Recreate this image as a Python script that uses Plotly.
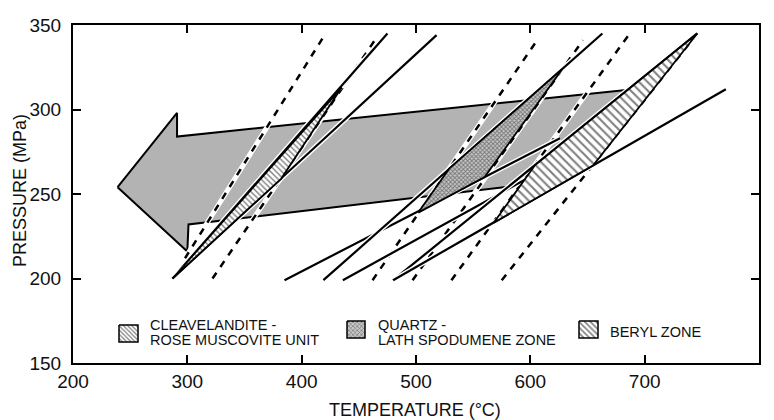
import plotly.graph_objects as go

# ---------------- data (temperature °C, pressure MPa) ----------------
x_ticks = [200, 300, 400, 500, 600, 700, 800]
y_ticks = [150, 200, 250, 300, 350]

# solid isochores: [T_start, T_end], [P_start, P_end]
solid_T = [[287, 475], [287, 518], [385, 626], [419, 663], [436, 661], [480, 746], [480, 771]]
solid_P = [[200, 345], [200, 344], [199, 283], [199, 345], [199, 283], [199, 345], [199, 312]]

# dashed isochores
dash_T = [[298, 420], [322, 466], [462, 606], [497, 646], [531, 687], [575, 746]]
dash_P = [[212, 344], [200, 343], [199, 341], [199, 341], [199, 345], [199, 345]]

# P-T path arrow outline
arrow_T = [239, 291, 291, 705, 626, 301, 300, 239]
arrow_P = [254, 298, 284, 313, 258, 232, 216, 254]

# zones
cleav_T = [287, 382, 435, 287]
cleav_P = [200, 259, 313, 200]
quartz_T = [502, 560, 628, 529, 502]
quartz_P = [239, 260, 324, 265, 239]
beryl_T = [568, 655, 746, 604, 568]
beryl_P = [233, 267, 345, 267, 233]

legend_names = ["CLEAVELANDITE -", "ROSE MUSCOVITE UNIT", "QUARTZ -", "LATH SPODUMENE ZONE", "BERYL ZONE"]

# ---------------- figure ----------------
OFF = 8                       # page body margin of the html page
W, H = 774 - OFF, 420 - OFF
PX0, PX1, PY0, PY1 = 73, 759, 25, 363   # plot frame in window pixels
L, R, T, B = PX0 - OFF, W - (PX1 - OFF), PY0 - OFF, H - (PY1 - OFF)
XR = [200, 800]
YR = [150, 350]

def px2T(px):
    return XR[0] + (px - PX0) * (XR[1] - XR[0]) / (PX1 - PX0)

def py2P(py):
    return YR[1] - (py - PY0) * (YR[1] - YR[0]) / (PY1 - PY0)

fig = go.Figure()

# arrow
fig.add_trace(go.Scatter(x=arrow_T, y=arrow_P, mode="lines", fill="toself",
                         fillcolor="#b3b3b3", line=dict(color="black", width=2),
                         hoverinfo="skip", showlegend=False))

# lines with white halo
for xs, ys in zip(dash_T, dash_P):
    fig.add_trace(go.Scatter(x=xs, y=ys, mode="lines", line=dict(color="white", width=5),
                             hoverinfo="skip", showlegend=False))
    fig.add_trace(go.Scatter(x=xs, y=ys, mode="lines", line=dict(color="black", width=2.5, dash="7px,7px"),
                             hoverinfo="skip", showlegend=False))
for xs, ys in zip(solid_T, solid_P):
    fig.add_trace(go.Scatter(x=xs, y=ys, mode="lines", line=dict(color="white", width=5),
                             hoverinfo="skip", showlegend=False))
    fig.add_trace(go.Scatter(x=xs, y=ys, mode="lines", line=dict(color="black", width=2.2),
                             hoverinfo="skip", showlegend=False))

# zones
fig.add_trace(go.Scatter(x=cleav_T, y=cleav_P, mode="lines", fill="toself",
                         fillpattern=dict(shape="\\", size=4, solidity=0.35, fgcolor="black", bgcolor="white"),
                         line=dict(color="black", width=1.8), hoverinfo="skip", showlegend=False))
fig.add_trace(go.Scatter(x=quartz_T, y=quartz_P, mode="lines", fill="toself",
                         fillpattern=dict(shape="x", size=3, solidity=0.5, fgcolor="#202020", bgcolor="#c8c8c8"),
                         line=dict(color="black", width=1.8), hoverinfo="skip", showlegend=False))
fig.add_trace(go.Scatter(x=beryl_T, y=beryl_P, mode="lines", fill="toself",
                         fillpattern=dict(shape="\\", size=6, solidity=0.35, fgcolor="black", bgcolor="white"),
                         line=dict(color="black", width=1.8), hoverinfo="skip", showlegend=False))

# legend (drawn inside plot)
icons = [(119, 138, 325, 342, "\\", 3, "white", "black"),
         (347, 365, 321, 338, "x", 3, "#c8c8c8", "#202020"),
         (579, 598, 321, 338, "\\", 4, "white", "black")]
for x0, x1, y0, y1, shp, sz, bg, fg in icons:
    fig.add_trace(go.Scatter(x=[px2T(x0), px2T(x1), px2T(x1), px2T(x0), px2T(x0)],
                             y=[py2P(y0), py2P(y0), py2P(y1), py2P(y1), py2P(y0)],
                             mode="lines", fill="toself",
                             fillpattern=dict(shape=shp, size=sz, solidity=0.4, fgcolor=fg, bgcolor=bg),
                             line=dict(color="black", width=1.5), hoverinfo="skip", showlegend=False))

font = "Liberation Sans, Arial, sans-serif"
text_pos = [(148, 325), (148, 340), (376, 325), (376, 340), (608, 332)]
for name, (tx, ty) in zip(legend_names, text_pos):
    fig.add_annotation(x=px2T(tx), y=py2P(ty), text=name, showarrow=False,
                       xanchor="left", yanchor="middle", font=dict(family=font, size=14.5, color="#111"))

fig.add_annotation(x=(415 - PX0) / (PX1 - PX0), y=-(410 - PY1) / (PY1 - PY0), xref="paper", yref="paper",
                   text="TEMPERATURE (°C)", showarrow=False, xanchor="center", yanchor="middle",
                   font=dict(family=font, size=18, color="#111"))
fig.add_annotation(x=-(PX0 - 20) / (PX1 - PX0), y=(PY1 - 191) / (PY1 - PY0), xref="paper", yref="paper",
                   text="PRESSURE (MPa)", showarrow=False, textangle=-90, xanchor="center", yanchor="middle",
                   font=dict(family=font, size=18, color="#111"))

axis_common = dict(showgrid=False, zeroline=False, showline=True, linecolor="black", linewidth=2,
                   mirror="ticks", ticks="inside", ticklen=8, tickwidth=1.5, tickcolor="black",
                   tickfont=dict(family=font, size=19, color="#111"))
fig.update_xaxes(range=XR, tickvals=x_ticks, ticktext=[str(v) for v in x_ticks],
                 ticklabelstandoff=0, **axis_common)
fig.update_yaxes(range=YR, tickvals=y_ticks, ticktext=[str(v) for v in y_ticks],
                 ticklabelstandoff=6, **axis_common)

fig.update_layout(width=W, height=H, margin=dict(l=L, r=R, t=T, b=B, autoexpand=False),
                  plot_bgcolor="white", paper_bgcolor="white", showlegend=False)

fig.write_html("out.html")
